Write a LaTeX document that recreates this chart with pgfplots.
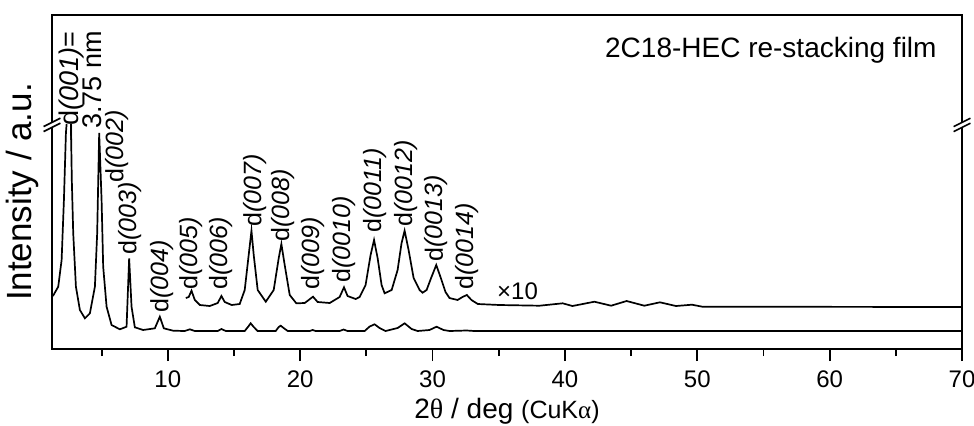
\documentclass[border=0pt]{standalone}
\usepackage{fontspec}
\setmainfont{Liberation Sans}
\newfontfamily\symf{Liberation Serif}
\usepackage{pgfplots}
\pgfplotsset{compat=1.18}
\usepackage{pgfplotstable}
\tikzset{lbl/.style={rotate=90, anchor=west, inner sep=0pt, font=\fontsize{12.5}{13}\selectfont}}

\pgfplotstableread{
x y
1.25 53
1.343 53.5
1.721 62.3
1.977 89
2.151 149
2.302 216
2.355 225
2.5 nan
2.679 225
2.747 169
2.853 116
3.057 62.3
3.358 39
3.736 30.7
4.113 35.7
4.491 62.3
4.664 116
4.815 216
4.996 149
5.117 82.3
5.374 42.3
5.751 24
6.377 19.7
6.883 22.3
7.079 90.7
7.26 42.3
7.509 21.7
8.136 19
9.019 20.7
9.396 32.3
9.698 20.7
10.4 18.3
11.28 18
11.66 19.7
12.04 18
13.77 18
14.05 20
14.38 18
15.81 18
16.11 23
16.26 25.7
16.49 22
16.79 18
18.15 18
18.38 22
18.53 23.3
18.75 21
19.06 18
20.72 18
20.94 19
21.17 18
22.98 18
23.28 19.5
23.58 18
24.87 18
25.25 22.5
25.62 24.7
26.0 21
26.45 18
27.36 21
27.89 25.7
28.42 20
28.87 18
29.77 19
30.3 22.3
30.83 19
31.28 18
32.57 18.5
33.17 18
70 18
}\lowertrace

\pgfplotstableread{
x y
11.36 51
11.58 52
11.79 58.3
12.04 49
12.42 44
13.17 43
13.77 46
14.05 53
14.30 47
14.83 44
15.43 45
15.81 59
16.11 94
16.32 118.3
16.49 94
16.79 59
17.40 47.3
18.0 59
18.38 91
18.58 105
18.83 84
19.21 54
19.71 45.7
20.34 46
20.97 52.3
21.32 47
22.23 46
22.98 52
23.31 61.7
23.58 53
24.19 50
24.49 52
24.94 64
25.32 94
25.58 109
25.85 91
26.15 64
26.38 55.7
26.91 59
27.36 79
27.66 106
27.89 118.3
28.19 99
28.57 71
29.02 59
29.25 56.3
29.55 59
29.92 72
30.28 84
30.60 72
30.98 57
31.28 51
31.89 49
32.26 52
32.59 54
32.94 49
33.42 45
35.06 44
38.08 43.3
39.83 45.7
40.57 43
42.23 47.3
43.49 43.3
44.66 48
46.0 43.3
47.18 46.7
48.39 43
49.6 44.3
50.38 42.3
57.7 42.2
70 42
}\uppertrace

\begin{document}
\begin{tikzpicture}
\useasboundingbox (-26pt,-38pt) rectangle (461pt,174.5pt);
\begin{axis}[
  at={(0,0)}, anchor=south west,
  scale only axis, width=455pt, height=167pt,
  xmin=1.25, xmax=70, ymin=0, ymax=334,
  clip=false,
  axis line style={line width=1pt},
  xtick={10,20,...,70}, minor xtick={5,15,...,65},
  ytick=\empty,
  xtick pos=lower,
  tick align=outside,
  major tick length=6pt, minor tick length=3.5pt,
  every tick/.style={line width=0.9pt, black},
  /pgf/number format/assume math mode=true,
  xticklabel style={font=\fontsize{12}{13}\selectfont, anchor=base, yshift=-13pt},
  xlabel={2{\symf θ} / deg {\fontsize{12.5}{13}\selectfont(CuK{\symf α})}},
  xlabel style={at={(axis description cs:0.5,0)}, anchor=base, yshift=-34.5pt, font=\fontsize{14}{15}\selectfont},
  ylabel={Intensity / a.u.},
  ylabel style={at={(axis description cs:-0.033,0.47)}, anchor=center, font=\fontsize{17.5}{19}\selectfont},
  unbounded coords=jump,
]
\addplot[black, line width=0.85pt, no marks] table[x=x, y=y] {\lowertrace};
\addplot[black, line width=0.85pt, no marks] table[x=x, y=y] {\uppertrace};

\node[rotate=90, anchor=east, inner sep=0pt, font=\fontsize{13.5}{14}\selectfont] at (axis cs:2.75,318) {–d\textit{(001)}=};
\node[rotate=90, anchor=east, inner sep=0pt, font=\fontsize{13.5}{14}\selectfont] at (axis cs:4.26,318) {3.75 nm};
\node[lbl] at (axis cs:6.15,166) {d\textit{(002)}};
\node[lbl] at (axis cs:7.13,94) {d\textit{(003)}};
\node[lbl] at (axis cs:9.55,36) {d\textit{(004)}};
\node[lbl] at (axis cs:11.74,59) {d\textit{(005)}};
\node[lbl] at (axis cs:14.0,59) {d\textit{(006)}};
\node[lbl] at (axis cs:16.57,122) {d\textit{(007)}};
\node[lbl] at (axis cs:18.68,107) {d\textit{(008)}};
\node[lbl] at (axis cs:20.94,59) {d\textit{(009)}};
\node[lbl] at (axis cs:23.28,66) {d\textit{(0010)}};
\node[lbl] at (axis cs:25.62,116) {d\textit{(0011)}};
\node[lbl] at (axis cs:27.96,122) {d\textit{(0012)}};
\node[lbl] at (axis cs:30.3,87) {d\textit{(0013)}};
\node[lbl] at (axis cs:32.57,59) {d\textit{(0014)}};
\node[inner sep=0pt, font=\fontsize{12}{13}\selectfont] at (axis cs:36.42,58) {×10};
\node[anchor=base east, inner sep=0pt, font=\fontsize{14}{15}\selectfont] at (axis description cs:0.9725,0.874) {2C18-HEC re-stacking film};

\coordinate (bl) at (axis description cs:0,0.671);
\coordinate (br) at (axis description cs:1,0.671);
\end{axis}
\foreach \p in {bl,br}{
\begin{scope}[shift={(\p)}]
  \fill[white] (-4.2pt,-3.35pt) -- (4.2pt,0.85pt) -- (4.2pt,3.35pt) -- (-4.2pt,-0.85pt) -- cycle;
  \draw[line width=0.8pt] (-4.2pt,-3.35pt) -- (4.2pt,0.85pt);
  \draw[line width=0.8pt] (-4.2pt,-0.85pt) -- (4.2pt,3.35pt);
\end{scope}
}
\end{tikzpicture}
\end{document}
